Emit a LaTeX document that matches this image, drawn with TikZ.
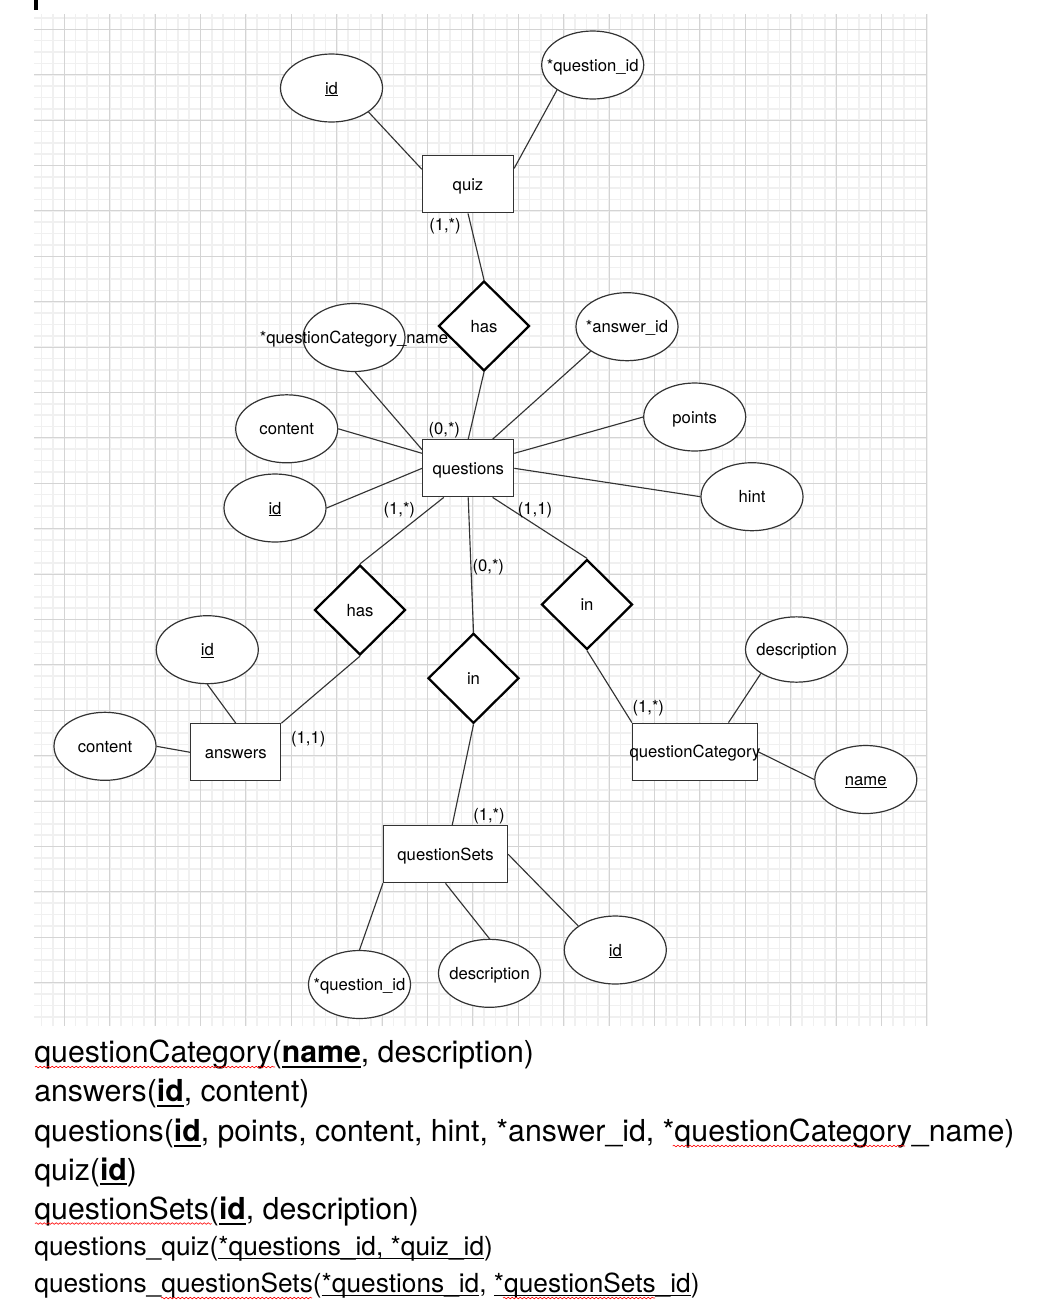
\documentclass[tikz,border=0pt]{standalone}
\usepackage{fontspec}
\setmainfont{TeX Gyre Heros}
\usetikzlibrary{shapes.geometric,decorations.pathmorphing}
\newcommand\ulx[2][0.14em]{\setbox0=\hbox{#2}\rlap{\rule[-#1]{\wd0}{0.065em}}\box0}
\newcommand\zw[1]{\makebox[0pt]{\raisebox{-0.37em}[0pt][0pt]{#1}}}
\newcommand\dfont{\fontsize{12.5}{14}\selectfont}
\newcommand\bigfont{\fontsize{22.7}{27}\selectfont}
\newcommand\midfont{\fontsize{19.7}{23}\selectfont}
\begin{document}
\begin{tikzpicture}[x=0.75pt,y=-0.75pt,
  every node/.style={font=\dfont},
  minorline/.style={draw=black!6, line width=1.2pt},
  majorline/.style={draw=black!17, line width=0.7pt},
  ent/.style={draw=black!80, line width=0.9pt, fill=white, rectangle, minimum width=68.25pt, minimum height=42.75pt, inner sep=0pt},
  attr/.style={draw=black!80, line width=0.9pt, fill=white, ellipse, minimum width=76.5pt, minimum height=51pt, inner sep=0pt},
  rel/.style={draw=black, line width=1.7pt, fill=white, diamond, minimum width=68.25pt, minimum height=67.5pt, inner sep=0pt},
  conn/.style={draw=black!80, line width=0.85pt},
  card/.style={inner sep=0pt, yshift=-1.5pt},
  reltext/.style={anchor=base west, inner sep=0pt},
  wavy/.style={draw=red, line width=0.45pt, decorate, decoration={snake, segment length=3pt, amplitude=0.6pt}}
]
\useasboundingbox (0,0) rectangle (1044,1304);
\fill[white] (0,0) rectangle (1044,1304);
% top-left mark
\fill[black] (34,0) rectangle (37.7,10);
% grid
\foreach \k in {-2,...,76} {\pgfmathsetmacro\xx{64.3+11.35*\k}\draw[minorline] (\xx,14) -- (\xx,1026);}
\foreach \k in {-1,...,87} {\pgfmathsetmacro\yy{29.3+11.35*\k}\draw[minorline] (34,\yy) -- (927,\yy);}
\foreach \k in {0,...,19} {\pgfmathsetmacro\xx{64.3+45.4*\k}\draw[majorline] (\xx,14) -- (\xx,1026);}
\foreach \k in {0,...,21} {\pgfmathsetmacro\yy{29.3+45.4*\k}\draw[majorline] (34,\yy) -- (927,\yy);}

% nodes
\node[attr] (qidA) at (592.7,65) {\zw{*question\_id}};
\node[attr] (idQ) at (331.5,88) {\zw{\ulx[0.12em]{id}}};
\node[ent] (quiz) at (468,184.3) {\zw{quiz}};
\node[rel] (hasT) at (484,326) {\zw{has}};
\node[attr] (qcn) at (354,337.5) {\zw{*questionCategory\_name}};
\node[attr] (ansid) at (627,326.7) {\zw{*answer\_id}};
\node[attr] (contQ) at (286.7,428.8) {\zw{content}};
\node[attr] (points) at (694.7,417) {\zw{points}};
\node[ent] (questions) at (468.2,468.3) {\zw{questions}};
\node[attr] (idQs) at (275,508) {\zw{\ulx[0.12em]{id}}};
\node[attr] (hint) at (752,496.7) {\zw{hint}};
\node[rel] (hasL) at (360,610) {\zw{has}};
\node[rel] (inR) at (587,604.5) {\zw{in}};
\node[attr] (idA) at (207.3,649.7) {\zw{\ulx[0.12em]{id}}};
\node[attr, minimum height=49pt] (desc) at (796.5,649.5) {\zw{description}};
\node[rel] (inM) at (473.5,678.3) {\zw{in}};
\node[attr] (contA) at (105,746.3) {\zw{content}};
\node[ent, minimum width=67.5pt] (answers) at (235.8,752.3) {\zw{answers}};
\node[ent, minimum width=93.75pt] (qc) at (695,751.7) {\zw{questionCategory}};
\node[attr] (name) at (865.8,779.5) {\zw{\ulx[0.12em]{name}}};
\node[ent, minimum width=93pt] (qs) at (445.5,854.2) {\zw{questionSets}};
\node[attr] (idS) at (615.3,950) {\zw{\ulx[0.12em]{id}}};
\node[attr] (descS) at (489.5,973.3) {\zw{description}};
\node[attr] (qidB) at (359.5,984.5) {\zw{*question\_id}};

% connectors
\draw[conn] (idQ.-33.5) -- (quiz.162.5);
\draw[conn] (qidA.215) -- (quiz.19.4);
\draw[conn] (quiz.south) -- (hasT.north);
\draw[conn] (hasT.south) -- (questions.north);
\draw[conn] (qcn.-88) -- (questions.158);
\draw[conn] (contQ.east) -- (questions.162);
\draw[conn] (idQs.east) -- (questions.west);
\draw[conn] (ansid.214) -- (questions.50.3);
\draw[conn] (points.west) -- (questions.18.2);
\draw[conn] (hint.west) -- (questions.east);
\draw[conn] (questions.230.8) -- (hasL.north);
\draw[conn] (hasL.south) -- (answers.north east);
\draw[conn] (idA.south) -- (answers.north);
\draw[conn] (contA.east) -- (answers.west);
\draw[conn] (questions.south) -- (inM.north);
\draw[conn] (inM.south) -- (qs.77.7);
\draw[conn] (questions.-50.4) -- (inR.north);
\draw[conn] (inR.south) -- (qc.north west);
\draw[conn] (desc.214) -- (qc.41.8);
\draw[conn] (qc.east) -- (name.west);
\draw[conn] (qs.south west) -- (qidB.north);
\draw[conn] (qs.south) -- (descS.north);
\draw[conn] (qs.east) -- (idS.147);

% cardinalities
\node[card] (c1) at (445,224) {(1,*)};
\node[card] (c2) at (444.3,427.7) {(0,*)};
\node[card] (c3) at (399.3,508.3) {(1,*)};
\node[card] (c4) at (535,508.3) {(1,1)};
\node[card] (c5) at (488.3,565) {(0,*)};
\node[card] (c6) at (308.3,736.7) {(1,1)};
\node[card] (c7) at (489,814) {(1,*)};
\node[card] (c8) at (648.3,706) {(1,*)};

% relational schema
\node[reltext, font=\bigfont] (r1) at (34,1062.3) {questionCategory(\ulx[0.18em]{\bfseries name}, description)};
\node[reltext, font=\bigfont] (r2) at (34,1101.7) {answers(\ulx[0.18em]{\bfseries id}, content)};
\node[reltext, font=\bigfont] (r3) at (34,1141.7) {questions(\ulx[0.18em]{\bfseries id}, points, content, hint, *answer\_id, *questionCategory\_name)};
\node[reltext, font=\bigfont] (r4) at (34,1180) {quiz(\ulx[0.18em]{\bfseries id})};
\node[reltext, font=\bigfont] (r5) at (34,1219.3) {questionSets(\ulx[0.18em]{\bfseries id}, description)};
\node[reltext, font=\midfont] (r6) at (34,1255) {questions\_quiz(\ulx[0.16em]{*questions\_id, *quiz\_id})};
\node[reltext, font=\midfont] (r7) at (34,1292) {questions\_questionSets(\ulx[0.16em]{*questions\_id}, \ulx[0.16em]{*questionSets\_id})};

% spell-check marks
\draw[wavy] (35,1067) -- (275,1067);
\draw[wavy] (672.7,1146) -- (905,1146);
\draw[wavy] (35,1223.5) -- (211.7,1223.5);
\draw[wavy] (161,1298) -- (312,1298);
\draw[wavy] (503,1298) -- (655,1298);
\end{tikzpicture}
\end{document}
